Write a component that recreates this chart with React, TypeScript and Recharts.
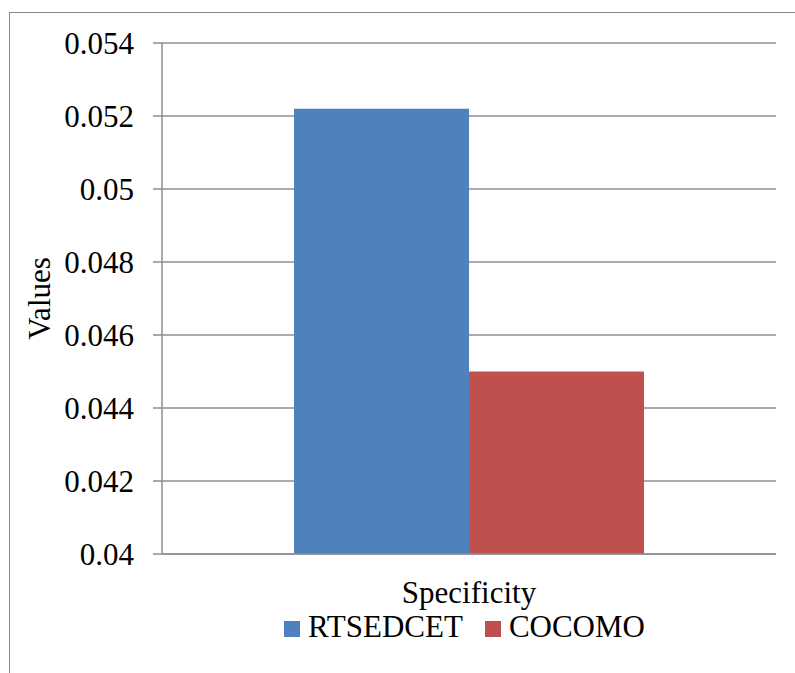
import React from 'react'
import { BarChart, Bar, XAxis, YAxis, CartesianGrid, Legend } from 'recharts'

// Specificity of the two estimation techniques
const categories = ['Specificity']
const rtsedcetValues = [0.0522]
const cocomoValues = [0.045]
const yTicks = [0.04, 0.042, 0.044, 0.046, 0.048, 0.05, 0.052, 0.054]
const seriesNames = ['RTSEDCET', 'COCOMO']

const FONT = '"Liberation Serif", "Times New Roman", serif'
const GRID = '#8f8f8f'
const BLUE = '#4f81bd'
const RED = '#c0504d'

const data = categories.map((name, i) => ({
  name,
  rtsedcet: rtsedcetValues[i],
  cocomo: cocomoValues[i],
}))

function CategoryTick({ x, y, payload }: any) {
  return (
    <text x={x} y={y + 49} textAnchor="middle" fontFamily={FONT} fontSize={31} fill="#000">
      {payload.value}
    </text>
  )
}

function ValuesLabel({ viewBox }: any) {
  const cx = 50
  const cy = viewBox.y + viewBox.height / 2
  return (
    <text
      x={cx}
      y={cy}
      transform={`rotate(-90 ${cx} ${cy})`}
      textAnchor="middle"
      fontFamily={FONT}
      fontSize={31}
      fill="#000"
    >
      Values
    </text>
  )
}

function LegendBox({ payload }: any) {
  // keep series order instead of the alphabetical one
  const items = [...payload].sort(
    (a: any, b: any) => seriesNames.indexOf(a.value) - seriesNames.indexOf(b.value)
  )
  return (
    <div style={{ display: 'flex', fontFamily: FONT, fontSize: 31, lineHeight: '34px', color: '#000' }}>
      {items.map((item: any, i: number) => (
        <span key={item.value} style={{ marginRight: i === 0 ? 22 : 0, whiteSpace: 'nowrap' }}>
          <span
            style={{
              display: 'inline-block',
              width: 16,
              height: 16,
              background: item.color,
              marginRight: 8,
              verticalAlign: 'baseline',
            }}
          />
          {item.value}
        </span>
      ))}
    </div>
  )
}

export default function App() {
  return (
    <div
      style={{
        position: 'absolute',
        left: 0,
        top: 0,
        width: 795,
        height: 673,
        overflow: 'hidden',
        background: '#fff',
      }}
    >
      {/* chart frame, only its top and left edges fall inside the page */}
      <div
        style={{
          position: 'absolute',
          left: 9,
          top: 12,
          width: 800,
          height: 700,
          borderTop: '1.5px solid #8a8a8a',
          borderLeft: '1.5px solid #8a8a8a',
        }}
      />
      <div style={{ position: 'absolute', left: 0, top: 0 }}>
        <BarChart
          width={795}
          height={673}
          data={data}
          margin={{ top: 43, right: 19, bottom: 59, left: 0 }}
          barCategoryGap="21.5%"
          barGap={0}
        >
          <CartesianGrid vertical={false} stroke={GRID} strokeWidth={1.5} />
          <XAxis
            xAxisId="edge"
            type="number"
            domain={[0, 1]}
            ticks={[0, 1]}
            height={0}
            axisLine={false}
            tick={false}
            tickSize={9}
            tickLine={{ stroke: GRID, strokeWidth: 1.5 }}
          />
          <XAxis
            dataKey="name"
            height={60}
            axisLine={{ stroke: GRID, strokeWidth: 1.5 }}
            tickLine={false}
            tickSize={0}
            tickMargin={0}
            tick={<CategoryTick />}
          />
          <YAxis
            width={162}
            domain={[0.04, 0.054]}
            ticks={yTicks}
            interval={0}
            tickSize={9}
            tickMargin={19}
            axisLine={{ stroke: GRID, strokeWidth: 1.5 }}
            tickLine={{ stroke: GRID, strokeWidth: 1.5 }}
            tick={{ fontFamily: FONT, fontSize: 31, fill: '#000' }}
            tickFormatter={(v: number) => String(v)}
            label={<ValuesLabel />}
          />
          <Bar dataKey="rtsedcet" name={seriesNames[0]} fill={BLUE} isAnimationActive={false} />
          <Bar dataKey="cocomo" name={seriesNames[1]} fill={RED} isAnimationActive={false} />
          <Legend
            layout="horizontal"
            verticalAlign="middle"
            align="center"
            wrapperStyle={{ top: 610, left: 284, width: 'auto' }}
            content={<LegendBox />}
          />
        </BarChart>
      </div>
    </div>
  )
}
